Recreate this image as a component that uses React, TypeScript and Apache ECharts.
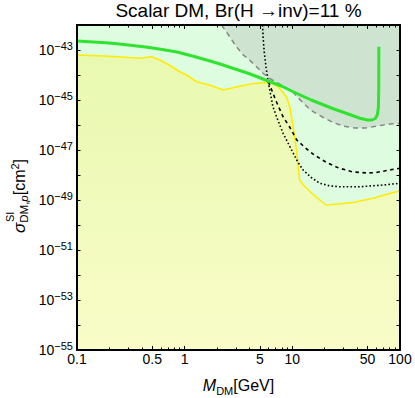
import React, { useEffect, useRef } from "react";
import * as echarts from "echarts";

// ---- data (x: M_DM in GeV, y: log10 of sigma in cm^2) ----
const greenX = [0.1, 0.2, 0.3, 0.45, 0.6, 0.85, 1.2, 1.6, 2.1, 2.8, 4.0, 5.8, 8.0, 10.2, 15, 24, 33, 42.5, 50, 55, 59, 61.5, 63, 63.5, 63.6];
const greenY = [-42.64, -42.72, -42.8, -42.89, -42.97, -43.08, -43.25, -43.4, -43.55, -43.73, -43.95, -44.22, -44.45, -44.67, -45.0, -45.35, -45.56, -45.73, -45.8, -45.8, -45.74, -45.6, -45.3, -44.5, -42.87];

const grayX = [2.2, 2.6, 3.0, 3.5, 4.0, 4.6, 5.3, 6.2, 7.5, 9.0, 10.2, 12.6, 15, 19.4, 24, 30, 38, 48, 60, 75, 100];
const grayY = [-42.0, -42.45, -42.85, -43.2, -43.4, -43.65, -43.92, -44.15, -44.35, -44.55, -44.7, -45.12, -45.42, -45.7, -45.9, -46.05, -46.12, -46.12, -46.05, -45.98, -45.93];

const yellowX = [0.1, 0.2, 0.3, 0.385, 0.49, 0.59, 0.75, 0.9, 1.04, 1.29, 1.7, 2.29, 3.0, 4.2, 5.5, 6.5, 7.3, 8.2, 8.9, 9.5, 10.2, 11.0, 11.7, 13, 14.5, 18, 20.5, 28, 36.6, 56, 100];
const yellowY = [-43.2, -43.25, -43.3, -43.33, -43.27, -43.4, -43.65, -43.87, -44.0, -44.27, -44.4, -44.6, -44.48, -44.35, -44.3, -44.33, -44.45, -44.7, -44.9, -45.3, -46.1, -47.1, -48.2, -48.45, -48.65, -49.0, -49.2, -49.15, -49.1, -48.93, -48.63];

const dashedX = [6.0, 7.0, 8.2, 9.5, 11.0, 13.5, 16, 20.8, 27, 36.6, 50, 60, 80, 100];
const dashedY = [-44.27, -45.0, -45.67, -46.1, -46.6, -46.95, -47.2, -47.5, -47.72, -47.88, -47.92, -47.9, -47.8, -47.73];

const dottedX = [5.3, 5.35, 5.5, 5.7, 5.97, 6.6, 7.4, 8.2, 9.2, 10.2, 11.3, 12.6, 15, 18, 22, 27.4, 42.5, 70, 100];
const dottedY = [-42.0, -42.5, -43.13, -43.7, -44.27, -45.27, -45.85, -46.33, -46.75, -47.13, -47.5, -47.8, -48.1, -48.33, -48.43, -48.47, -48.47, -48.4, -48.33];

// ---- axes ----
const xLabelVals = [0.1, 0.5, 1, 5, 10, 50, 100];
const xMinorTicks = [0.2, 0.3, 0.4, 0.6, 0.7, 0.8, 0.9, 2, 3, 4, 6, 7, 8, 9, 20, 30, 40, 60, 70, 80, 90];
const yLabelExps = [-55, -53, -51, -49, -47, -45, -43];
const xMin = 0.1;
const xMax = 100;
const yMinExp = -55;
const yMaxExp = -42;

const TITLE = "Scalar DM, Br(H \u2192inv)=11 %";
const FF = '"Liberation Sans", Arial, Helvetica, sans-serif';

const lg = (v: number) => Math.log10(v);
const pts = (xs: number[], ys: number[]) => xs.map((x, i) => [lg(x), ys[i]]);

function buildOption() {
  const xMajorTicks = xLabelVals.map(lg);
  const xMinorT = xMinorTicks.map(lg);
  const xBase = {
    type: "value",
    min: lg(xMin),
    max: lg(xMax),
    splitLine: { show: false },
    z: 6,
  };
  const yBase = {
    type: "value",
    min: yMinExp,
    max: yMaxExp,
    interval: 1,
    splitLine: { show: false },
    z: 6,
  };
  const axisLine = { show: true, onZero: false, lineStyle: { color: "#000", width: 2 } };
  const noLine = { show: false };
  const lineBase = {
    type: "line",
    showSymbol: false,
    symbol: "none",
    silent: true,
    clip: true,
    smooth: false,
  };
  return {
    animation: false,
    backgroundColor: "#ffffff",
    title: {
      text: TITLE,
      left: 238.5,
      top: 1,
      padding: 0,
      textAlign: "center",
      textStyle: { fontSize: 19, fontWeight: "normal", color: "#000", fontFamily: FF },
    },
    grid: {
      left: 77,
      right: 15,
      top: 25,
      bottom: 48,
      show: true,
      backgroundColor: "#defde0",
      borderWidth: 0,
      containLabel: false,
    },
    xAxis: [
      {
        ...xBase,
        position: "bottom",
        axisLine,
        axisTick: { show: true, inside: true, length: 4, customValues: xMajorTicks, lineStyle: { color: "#000", width: 1 } },
        axisLabel: {
          show: true,
          margin: 2,
          customValues: xMajorTicks,
          fontSize: 14,
          fontFamily: FF,
          color: "#000",
          formatter: (v: number) => {
            const m = xLabelVals.find((x) => Math.abs(lg(x) - v) < 1e-6);
            return m !== undefined ? String(m) : "";
          },
        },
      },
      {
        ...xBase,
        position: "bottom",
        axisLine: noLine,
        axisTick: { show: true, inside: true, length: 2.5, customValues: xMinorT, lineStyle: { color: "#000", width: 1 } },
        axisLabel: { show: false },
      },
      {
        ...xBase,
        position: "top",
        axisLine,
        axisTick: { show: true, inside: true, length: 4, customValues: xMajorTicks, lineStyle: { color: "#000", width: 1 } },
        axisLabel: { show: false },
      },
      {
        ...xBase,
        position: "top",
        axisLine: noLine,
        axisTick: { show: true, inside: true, length: 2.5, customValues: xMinorT, lineStyle: { color: "#000", width: 1 } },
        axisLabel: { show: false },
      },
    ],
    yAxis: [
      {
        ...yBase,
        position: "left",
        axisLine,
        axisTick: { show: true, inside: true, length: 3.5, lineStyle: { color: "#000", width: 1 } },
        axisLabel: {
          show: true,
          margin: 4,
          customValues: yLabelExps,
          color: "#000",
          formatter: (v: number) => `{b|10}{s|${v < 0 ? "\u2212" : ""}${Math.abs(v)}}`,
          rich: {
            b: { fontSize: 14, fontFamily: FF, color: "#000" },
            s: { fontSize: 11, fontFamily: FF, color: "#000", padding: [0, 0, 8, 0] },
          },
        },
      },
      {
        ...yBase,
        position: "right",
        axisLine,
        axisTick: { show: true, inside: true, length: 3.5, lineStyle: { color: "#000", width: 1 } },
        axisLabel: { show: false },
      },
    ],
    series: [
      {
        ...lineBase,
        name: "yellowArea",
        data: pts(yellowX, yellowY),
        lineStyle: { width: 0, opacity: 0 },
        areaStyle: {
          origin: "start",
          opacity: 1,
          color: {
            type: "linear",
            x: 0,
            y: 0,
            x2: 0,
            y2: 1,
            colorStops: [
              { offset: 0, color: "#e8f9b0" },
              { offset: 1, color: "#f9fcc8" },
            ],
          },
        },
        z: 1,
      },
      {
        ...lineBase,
        name: "grayArea",
        data: pts(grayX, grayY),
        lineStyle: { width: 0, opacity: 0 },
        areaStyle: { origin: "end", opacity: 1, color: "#cfe4d0" },
        z: 1,
      },
      {
        ...lineBase,
        name: "grayLine",
        data: pts(grayX, grayY),
        lineStyle: { color: "#868686", width: 1.5, type: [5, 4] },
        z: 2,
      },
      {
        ...lineBase,
        name: "yellowLine",
        data: pts(yellowX, yellowY),
        lineStyle: { color: "#ffeb00", width: 1.6 },
        z: 2,
      },
      {
        ...lineBase,
        name: "dashed",
        data: pts(dashedX, dashedY),
        lineStyle: { color: "#000", width: 1.6, type: [3.5, 3.5] },
        z: 3,
      },
      {
        ...lineBase,
        name: "dotted",
        data: pts(dottedX, dottedY),
        lineStyle: { color: "#000", width: 1.6, type: [1.6, 2.2] },
        z: 3,
      },
      {
        ...lineBase,
        name: "green",
        data: pts(greenX, greenY),
        lineStyle: { color: "#2fe32f", width: 3, join: "round" },
        z: 4,
      },
    ],
    graphic: [
      {
        type: "text",
        x: 238.5,
        y: 385,
        silent: true,
        style: {
          text: "{i|M}{sub|DM}{n|[GeV]}",
          align: "center",
          verticalAlign: "middle",
          textAlign: "center",
          textVerticalAlign: "middle",
          fontSize: 16,
          fontFamily: FF,
          fill: "#000",
          rich: {
            i: { fontSize: 16, fontStyle: "italic", fontFamily: FF, color: "#000" },
            sub: { fontSize: 11, fontFamily: FF, color: "#000", padding: [11, 0, 0, 0] },
            n: { fontSize: 16, fontFamily: FF, color: "#000" },
          },
        },
      },
      {
        type: "group",
        x: 19,
        y: 233,
        rotation: Math.PI / 2,
        silent: true,
        children: [
          {
            type: "text",
            x: 0,
            y: 0,
            style: {
              text: "{s|\u03c3}{sub|DM,}{subi|p}{n|[cm}{sup|2}{n|]}",
              align: "left",
              verticalAlign: "middle",
              textAlign: "left",
              textVerticalAlign: "middle",
              fontSize: 16,
              fontFamily: FF,
              fill: "#000",
              rich: {
                s: { fontSize: 17, fontStyle: "italic", fontFamily: FF, color: "#000" },
                sub: { fontSize: 11.5, fontFamily: FF, color: "#000", padding: [9, 0, 0, 0] },
                subi: { fontSize: 11.5, fontStyle: "italic", fontFamily: FF, color: "#000", padding: [9, 0, 0, 0] },
                n: { fontSize: 16, fontFamily: FF, color: "#000" },
                sup: { fontSize: 11, fontFamily: FF, color: "#000", padding: [0, 0, 9, 0] },
              },
            },
          },
          {
            type: "text",
            x: 11,
            y: -9,
            style: {
              text: "SI",
              align: "left",
              verticalAlign: "middle",
              textAlign: "left",
              textVerticalAlign: "middle",
              fontSize: 11,
              fontFamily: FF,
              fill: "#000",
            },
          },
        ],
      },
    ],
  };
}

export default function App() {
  const ref = useRef<HTMLDivElement>(null);
  useEffect(() => {
    if (!ref.current) return;
    const chart = echarts.init(ref.current, null, { renderer: "svg" });
    chart.setOption(buildOption() as any);
    return () => chart.dispose();
  }, []);
  return (
    <div
      ref={ref}
      style={{ position: "fixed", left: 0, top: 0, width: 415, height: 398, background: "#fff" }}
    />
  );
}
